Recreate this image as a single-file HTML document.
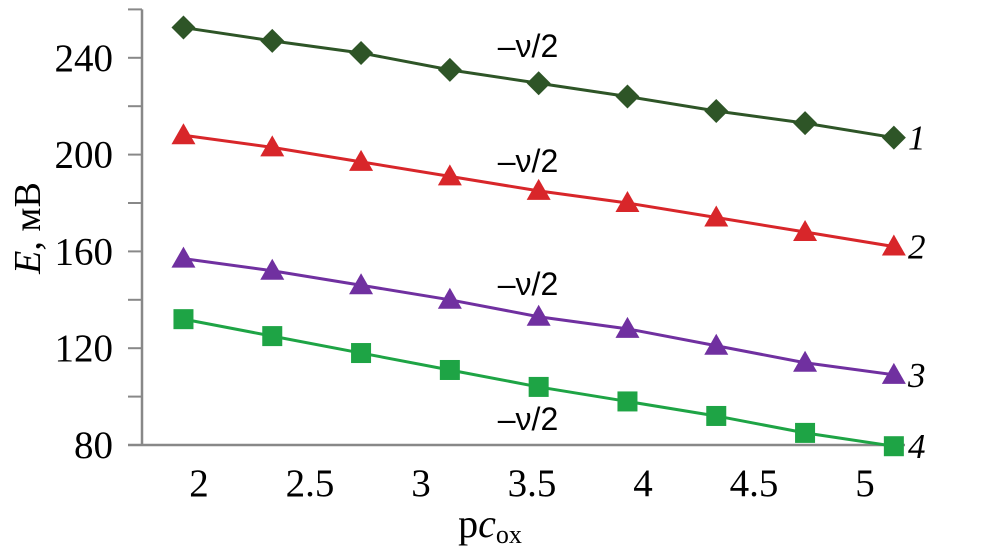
<!DOCTYPE html>
<html><head><meta charset="utf-8"><style>
body{margin:0;background:#fff}
svg{display:block;font-family:"Liberation Serif",serif}
</style></head><body>
<svg id="c" width="986" height="553" viewBox="0 0 986 553"></svg>
<script>
const xValues=[1.93,2.33,2.73,3.13,3.53,3.93,4.33,4.73,5.13];
const s1=[252.5,247,242,235,229.5,224,218,213,207];
const s2=[208,203,197,191,185,180,174,168,162];
const s3=[157,152,146,140,133,128,121,114,109];
const s4=[132,125,118,111,104,98,92,85,79.5];
const yTicks=[80,120,160,200,240];
const yMinor=[80,100,120,140,160,180,200,220,240,260];
const xTicks=[2,2.5,3,3.5,4,4.5,5];
const xTickLabels=["2","2.5","3","3.5","4","4.5","5"];
const seriesLabels=["1","2","3","4"];

const NS="http://www.w3.org/2000/svg";
const svg=document.getElementById('c');
const X=v=>199+(v-2)*222;
const Y=v=>445-(v-80)*2.42;
function mk(t,a,p){const e=document.createElementNS(NS,t);for(const k in a)e.setAttribute(k,a[k]);(p||svg).appendChild(e);return e;}

let ax=mk('line',{x1:142,y1:Y(260),x2:142,y2:446,stroke:'#888','stroke-width':2.5});


ax=mk('line',{x1:128,y1:445,x2:905,y2:445,stroke:'#888','stroke-width':2.5});


yMinor.forEach(v=>{const t=mk('line',{x1:128,y1:Y(v),x2:142,y2:Y(v),stroke:'#888','stroke-width':2});

});
yTicks.forEach(v=>{const t=mk('text',{x:113,y:Y(v)+13,'text-anchor':'end','font-size':39});t.textContent=v;

});
xTicks.forEach((v,i)=>{const t=mk('text',{x:X(v),y:496,'text-anchor':'middle','font-size':39});t.textContent=xTickLabels[i];

});
let t=mk('text',{x:490,y:537,'text-anchor':'middle','font-size':40});
t.innerHTML='p<tspan font-style="italic">c</tspan><tspan font-size="26" dy="6">ox</tspan>';


t=mk('text',{x:0,y:0,'text-anchor':'middle','font-size':38,transform:'translate(40,228) rotate(-90)'});
t.innerHTML='<tspan font-style="italic">E</tspan>, мВ';



const series=[[s1,'#2e5527','diamond'],[s2,'#d8262a','tri'],[s3,'#7030a0','tri'],[s4,'#1ea445','square']];
const nuPos=[[528,57],[528,172],[528,295],[528,430]];
series.forEach(([d,c,m],si)=>{
  const g=mk('g',{});
  
  
  const pl=mk('polyline',{points:d.map((v,i)=>X(xValues[i])+','+Y(v)).join(' '),fill:'none',stroke:c,'stroke-width':3},g);
  
  
  d.forEach((v,i)=>{const x=X(xValues[i]),y=Y(v);let e;
    if(m==='diamond')e=mk('polygon',{points:`${x},${y-12} ${x+12},${y} ${x},${y+12} ${x-12},${y}`,fill:c},g);
    else if(m==='tri')e=mk('polygon',{points:`${x},${y-12} ${x+12},${y+9} ${x-12},${y+9}`,fill:c},g);
    else e=mk('rect',{x:x-10,y:y-10,width:20,height:20,fill:c},g);
    
    });
  const nu=mk('text',{x:nuPos[si][0],y:nuPos[si][1],'text-anchor':'middle','font-size':32,'font-family':'Liberation Sans, sans-serif'});nu.textContent='–ν/2';
  
  
  const lb=mk('text',{x:908,y:Y(d[d.length-1])+12,'font-size':35,'font-style':'italic'});lb.textContent=seriesLabels[si];
  
  
});
</script>
</body></html>
